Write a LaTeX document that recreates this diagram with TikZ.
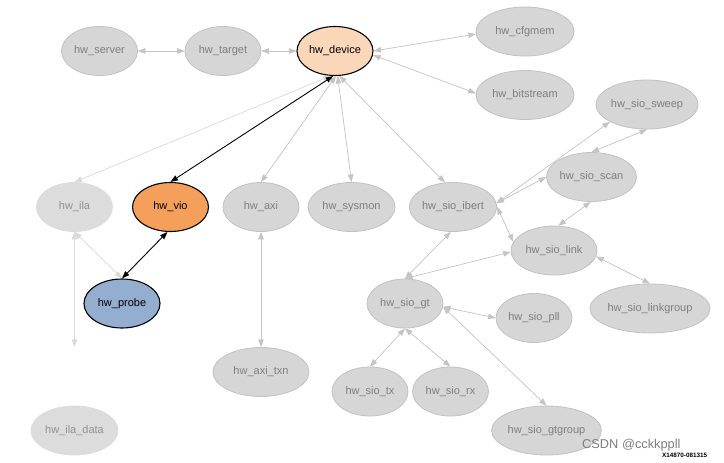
\documentclass[tikz,border=0pt]{standalone}
\usepackage{fontspec}
\setmainfont{Liberation Sans}
\usetikzlibrary{shapes.geometric,arrows.meta}
\definecolor{nfill}{HTML}{D6D6D6}
\definecolor{nline}{HTML}{C2C2C2}
\definecolor{lfill}{HTML}{DCDCDC}
\definecolor{ntext}{HTML}{7F7F7F}
\definecolor{ltext}{HTML}{929292}
\definecolor{eline}{HTML}{C4C4C4}
\definecolor{leline}{HTML}{DADADA}
\definecolor{devfill}{HTML}{FBD7BA}
\definecolor{viofill}{HTML}{F5A05A}
\definecolor{probefill}{HTML}{94AECF}
\tikzset{
  gnode/.style={ellipse, inner sep=0pt, minimum height=49pt, minimum width=76pt,
    fill=nfill, draw=nline, line width=0.8pt, text=ntext, font=\fontsize{11}{13}\selectfont},
  lnode/.style={gnode, fill=lfill, draw=lfill, text=ltext},
  hnode/.style={gnode, draw=black, line width=1.1pt, text=black},
  gedge/.style={draw=eline, line width=0.7pt, {Triangle[length=7.5pt,width=5.5pt]}-{Triangle[length=7.5pt,width=5.5pt]}},
  ledge/.style={gedge, draw=leline},
  bedge/.style={draw=black, line width=0.9pt, {Triangle[length=7.5pt,width=5.5pt]}-{Triangle[length=7.5pt,width=5.5pt]}},
}
\begin{document}
\begin{tikzpicture}[x=1pt,y=-1pt]
\useasboundingbox (0,0) rectangle (724,463);
\fill[white] (0,0) rectangle (724,463);
% nodes
\node[gnode] (server) at (99.5,51) {hw\_server};
\node[gnode] (target) at (223,51) {hw\_target};
\node[hnode, fill=devfill] (device) at (335,51) {hw\_device};
\node[gnode, minimum width=98pt] (cfgmem) at (525,31.5) {hw\_cfgmem};
\node[gnode, minimum width=98pt] (bitstream) at (525,95) {hw\_bitstream};
\node[gnode, minimum width=102pt] (sweep) at (647,104.5) {hw\_sio\_sweep};
\node[lnode] (ila) at (74.5,207) {hw\_ila};
\node[hnode, fill=viofill] (vio) at (170.5,207) {hw\_vio};
\node[gnode] (axi) at (261,207) {hw\_axi};
\node[gnode, minimum width=87pt] (sysmon) at (351.5,207) {hw\_sysmon};
\node[gnode, minimum width=86pt] (ibert) at (453,207) {hw\_sio\_ibert};
\node[gnode, minimum width=87pt] (scan) at (591.5,177) {hw\_sio\_scan};
\node[gnode, minimum width=86pt] (link) at (554,250.5) {hw\_sio\_link};
\node[hnode, fill=probefill] (probe) at (122,303.5) {hw\_probe};
\node[gnode, minimum width=116pt] (linkgroup) at (650,308.5) {hw\_sio\_linkgroup};
\node[gnode] (gt) at (405,303.5) {hw\_sio\_gt};
\node[gnode] (pll) at (534,318) {hw\_sio\_pll};
\node[gnode, minimum width=96pt] (axitxn) at (261,372) {hw\_axi\_txn};
\node[gnode] (tx) at (370,391.5) {hw\_sio\_tx};
\node[gnode] (rx) at (450.5,391.5) {hw\_sio\_rx};
\node[lnode, minimum width=87pt] (iladata) at (74.5,430.5) {hw\_ila\_data};
\node[gnode, minimum width=106pt] (gtgroup) at (546.5,430.5) {hw\_sio\_gtgroup};
\coordinate (ilaend) at (74.5,347);
% edges
\draw[gedge] (server.east) -- (target.west);
\draw[gedge] (target.east) -- (device.west);
\draw[gedge] (device.east) -- (cfgmem.183);
\draw[gedge] (device.-6) -- (bitstream.178);
\draw[ledge] (device.-100) -- (ila.north);
\draw[bedge] (device.-94) -- (vio.north);
\draw[gedge] (device.-88) -- (axi.north);
\draw[gedge] (device.-84) -- (sysmon.north);
\draw[gedge] (device.-80) -- (ibert.108);
\draw[bedge] (vio.-97) -- (probe.north);
\draw[ledge] (ila.south) -- (probe.north);
\draw[ledge] (ila.south) -- (ilaend);
\draw[gedge] (axi.south) -- (axitxn.north);
\draw[gedge] (ibert.5) -- (sweep.205);
\draw[gedge] (ibert.5) -- (scan.west);
\draw[gedge] (ibert.east) -- (link.168);
\draw[gedge] (scan.north) -- (sweep.-90);
\draw[gedge] (scan.-92) -- (link.80);
\draw[gedge] (ibert.-95) -- (gt.north);
\draw[gedge] (gt.north) -- (link.182);
\draw[gedge] (link.-8) -- (linkgroup.north);
\draw[gedge] (gt.-5) -- (pll.west);
\draw[gedge] (gt.south) -- (tx.north);
\draw[gedge] (gt.south) -- (rx.north);
\draw[gedge] (gt.-5) -- (gtgroup.north);
% watermark and label
\node[text=ntext, font=\fontsize{12.8}{14}\selectfont, anchor=west, inner sep=0pt] (wm) at (582,445) {CSDN @cckkppll};
\node[text=black, font=\bfseries\fontsize{6.3}{7}\selectfont, anchor=west, inner sep=0pt] (xid) at (662,455) {X14870-081315};
\end{tikzpicture}
\end{document}
